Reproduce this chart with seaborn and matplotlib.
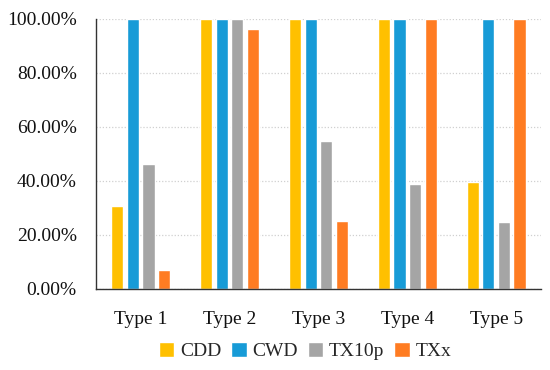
import matplotlib
matplotlib.use("Agg")
import matplotlib.pyplot as plt
import numpy as np
import pandas as pd
import seaborn as sns
from matplotlib.ticker import PercentFormatter

categories = ["Type 1", "Type 2", "Type 3", "Type 4", "Type 5"]
indices = ["CDD", "CWD", "TX10p", "TXx"]
cdd = [30.4, 100.0, 100.0, 100.0, 39.6]
cwd = [100.0, 100.0, 100.0, 100.0, 100.0]
tx10p = [46.0, 100.0, 54.5, 38.9, 24.8]
txx = [7.0, 96.0, 25.2, 100.0, 100.0]
colors = ["#FFC000", "#179BD7", "#A5A5A5", "#FF7C22"]

df = pd.DataFrame({"type": categories, "CDD": cdd, "CWD": cwd, "TX10p": tx10p, "TXx": txx})
df = df.melt(id_vars="type", var_name="index", value_name="value")

sns.set_theme(style="white")
plt.rcParams["font.family"] = ["Liberation Serif", "DejaVu Serif"]

fig, ax = plt.subplots(figsize=(5.5, 3.7), dpi=100)
sns.barplot(data=df, x="type", y="value", hue="index", hue_order=indices,
            palette=colors, saturation=1, width=0.7, gap=0.22, ax=ax, errorbar=None)

ax.set_ylim(0, 100)
ax.set_xlim(-0.5, 4.5)
ax.set_yticks(np.arange(0, 101, 20))
ax.yaxis.set_major_formatter(PercentFormatter(decimals=2))
ax.grid(axis="y", color="#D0D0D0", linestyle=(0, (1, 1.5)), linewidth=0.9)
ax.set_axisbelow(True)
ax.set_xlabel("")
ax.set_ylabel("")
for s in ["top", "right"]:
    ax.spines[s].set_visible(False)
for s in ["left", "bottom"]:
    ax.spines[s].set_color("#333333")
    ax.spines[s].set_linewidth(1.0)

ax.set_xticks(np.arange(-0.5, 5.0, 1.0), minor=True)
ax.tick_params(axis="x", which="major", length=0, labelsize=14, pad=16, colors="#111111")
ax.tick_params(axis="x", which="minor", length=5, width=1, direction="in", color="#333333")
ax.tick_params(axis="y", length=0, labelsize=14, pad=14, colors="#111111")

ax.legend(loc="center", bbox_to_anchor=(0.47, -0.23), ncol=4, frameon=False,
          fontsize=14, handlelength=0.8, handleheight=0.8, handletextpad=0.3,
          columnspacing=0.5, borderpad=0)

plt.subplots_adjust(left=0.175, right=0.983, top=0.95, bottom=0.22)
fig.savefig("out.png", dpi=100)
